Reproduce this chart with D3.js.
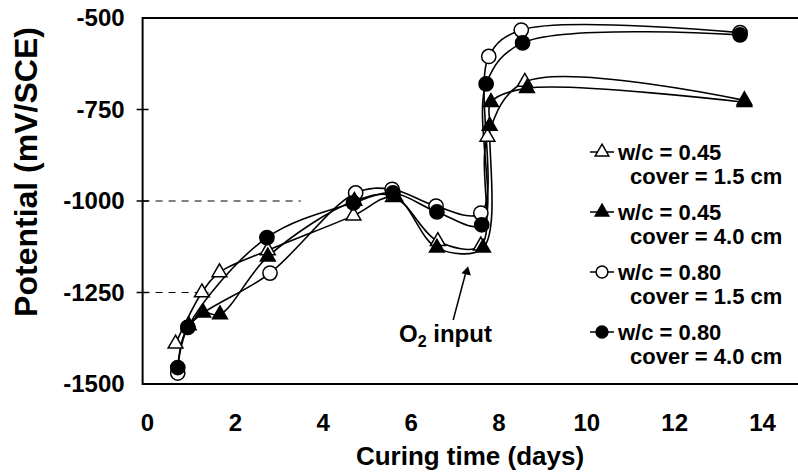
<!DOCTYPE html>
<html>
<head>
<meta charset="utf-8">
<script src="https://cdn.jsdelivr.net/npm/d3@7"></script>
<style>
  body { margin: 0; background: #fff; }
  svg { display: block; }
  text { font-family: "Liberation Sans", Arial, sans-serif; font-weight: bold; fill: #000; }
</style>
</head>
<body>
<div id="chart"></div>
<script>
// values: curing time (days) and potential (mV/SCE)
const daysA = [0.65, 1.25, 1.65, 2.75, 4.7, 5.6, 6.62, 7.6, 7.75, 8.6, 13.6];
const potA  = [-1390, -1250, -1195, -1135, -1040, -990, -1110, -1122, -825, -675, -725];

const daysB = [0.95, 1.28, 1.66, 2.75, 4.72, 5.65, 6.6, 7.65, 7.8, 7.83, 8.65, 13.6];
const potB  = [-1340, -1305, -1310, -1152, -1000, -988, -1128, -1128, -795, -730, -692, -730];

const daysC = [0.7, 0.93, 2.8, 4.75, 5.58, 6.58, 7.6, 7.78, 8.52, 13.5];
const potC  = [-1470, -1345, -1197, -978, -968, -1014, -1033, -605, -533, -540];

const daysD = [0.7, 0.93, 2.73, 4.7, 5.6, 6.6, 7.62, 7.72, 8.55, 13.5];
const potD  = [-1455, -1345, -1100, -1005, -978, -1030, -1065, -680, -568, -546];

const seriesNames = ["w/c = 0.45", "w/c = 0.45", "w/c = 0.80", "w/c = 0.80"];
const coverNames  = ["cover = 1.5 cm", "cover = 4.0 cm", "cover = 1.5 cm", "cover = 4.0 cm"];

const xTicks = [0, 2, 4, 6, 8, 10, 12, 14];
const yTicks = [-500, -750, -1000, -1250, -1500];

const width = 798, height = 474;

let svg = d3.select("#chart")
    .append("svg")
    .attr("width", width)
    .attr("height", height);

let x = d3.scaleLinear().domain([0, 14]).range([147, 762]);
let y = d3.scaleLinear().domain([-1500, -500]).range([384, 18]);

const x0 = x(-0.1), x1 = width;

// partial dashed grid lines (what survives in the scan)
let grid = [{v: -1000, to: 3.5}, {v: -1250, to: 1.4}];
svg.selectAll(".grid").data(grid).enter()
    .append("line")
    .attr("x1", x0).attr("x2", d => x(d.to))
    .attr("y1", d => y(d.v)).attr("y2", d => y(d.v))
    .attr("stroke", "#000").attr("stroke-width", 1)
    .attr("stroke-dasharray", "7,6");

// frame: top, left, bottom
svg.append("path")
    .attr("d", `M${x1},${y(-500)}H${x0}V${y(-1500)}H${x1}`)
    .attr("fill", "none").attr("stroke", "#000").attr("stroke-width", 2);

// y axis labels
svg.append("g")
    .attr("transform", `translate(${x0},0)`)
    .call(d3.axisLeft(y).tickValues(yTicks).tickSize(0).tickPadding(18)
        .tickFormat(d => String(d)))
    .call(g => g.select(".domain").remove())
    .selectAll("text")
    .style("font-size", "24px")
    .style("font-family", "'Liberation Sans', Arial, sans-serif")
    .style("font-weight", "bold");

// crossing ticks
svg.selectAll(".ytick").data(yTicks.slice(1, 4)).enter()
    .append("line")
    .attr("x1", x0 - 6).attr("x2", x0 + 6)
    .attr("y1", d => y(d)).attr("y2", d => y(d))
    .attr("stroke", "#000").attr("stroke-width", 1.5);

// x axis labels
svg.append("g")
    .attr("transform", `translate(0,${y(-1500)})`)
    .call(d3.axisBottom(x).tickValues(xTicks).tickSize(0).tickPadding(30))
    .call(g => g.select(".domain").remove())
    .selectAll("text")
    .style("font-size", "24px")
    .style("font-family", "'Liberation Sans', Arial, sans-serif")
    .style("font-weight", "bold");

// axis titles
svg.append("text")
    .attr("x", 470).attr("y", 465)
    .attr("text-anchor", "middle")
    .style("font-size", "26px")
    .text("Curing time (days)");

svg.append("text")
    .attr("transform", "translate(37,172) rotate(-90)")
    .attr("text-anchor", "middle")
    .style("font-size", "32px")
    .text("Potential (mV/SCE)");

// series
let series = [
    {days: daysA, pot: potA, shape: d3.symbolTriangle, fill: "#fff"},
    {days: daysC, pot: potC, shape: d3.symbolCircle, fill: "#fff"},
    {days: daysB, pot: potB, shape: d3.symbolTriangle, fill: "#000"},
    {days: daysD, pot: potD, shape: d3.symbolCircle, fill: "#000"}
];

let line = d3.line()
    .x(d => x(d[0]))
    .y(d => y(d[1]))
    .curve(d3.curveCatmullRom.alpha(0.5));

series.forEach(function(s) {
    let pts = s.days.map((d, i) => [d, s.pot[i]]);
    svg.append("path")
        .datum(pts)
        .attr("d", line)
        .attr("fill", "none")
        .attr("stroke", "#000")
        .attr("stroke-width", 1.6);
});

series.forEach(function(s) {
    let pts = s.days.map((d, i) => [d, s.pot[i]]);
    let size = s.shape === d3.symbolCircle ? 160 : 95;
    svg.append("g").selectAll("path").data(pts).enter()
        .append("path")
        .attr("d", d3.symbol().type(s.shape).size(size))
        .attr("transform", d => `translate(${x(d[0])},${y(d[1])})`)
        .attr("fill", s.fill)
        .attr("stroke", "#000")
        .attr("stroke-width", 1.5);
});

// O2 input annotation
svg.append("line")
    .attr("x1", x(6.97)).attr("y1", y(-1325))
    .attr("x2", x(7.28)).attr("y2", y(-1185))
    .attr("stroke", "#000").attr("stroke-width", 1.5);
svg.append("path")
    .attr("d", d3.symbol().type(d3.symbolTriangle).size(40))
    .attr("transform", `translate(${x(7.28)},${y(-1185) + 3}) rotate(13)`)
    .attr("fill", "#000");

let o2 = svg.append("text")
    .attr("x", 399).attr("y", 342)
    .style("font-size", "24px");
o2.append("tspan").text("O");
o2.append("tspan").attr("dy", 5).style("font-size", "16px").text("2");
o2.append("tspan").attr("dy", -5).text(" input");

// legend
let legendItems = [
    {shape: d3.symbolTriangle, fill: "#fff"},
    {shape: d3.symbolTriangle, fill: "#000"},
    {shape: d3.symbolCircle, fill: "#fff"},
    {shape: d3.symbolCircle, fill: "#000"}
];
let legend = svg.append("g");
legendItems.forEach(function(item, i) {
    let ly = 152 + i * 60;
    legend.append("line")
        .attr("x1", 590).attr("x2", 614)
        .attr("y1", ly).attr("y2", ly)
        .attr("stroke", "#000").attr("stroke-width", 1.5);
    legend.append("path")
        .attr("d", d3.symbol().type(item.shape).size(item.shape === d3.symbolCircle ? 110 : 80))
        .attr("transform", `translate(602,${ly})`)
        .attr("fill", item.fill)
        .attr("stroke", "#000")
        .attr("stroke-width", 1.5);
    legend.append("text")
        .attr("x", 618).attr("y", ly + 8)
        .style("font-size", "22px")
        .text(seriesNames[i]);
    legend.append("text")
        .attr("x", 630).attr("y", ly + 32)
        .style("font-size", "22px")
        .text(coverNames[i]);
});
</script>
</body>
</html>
